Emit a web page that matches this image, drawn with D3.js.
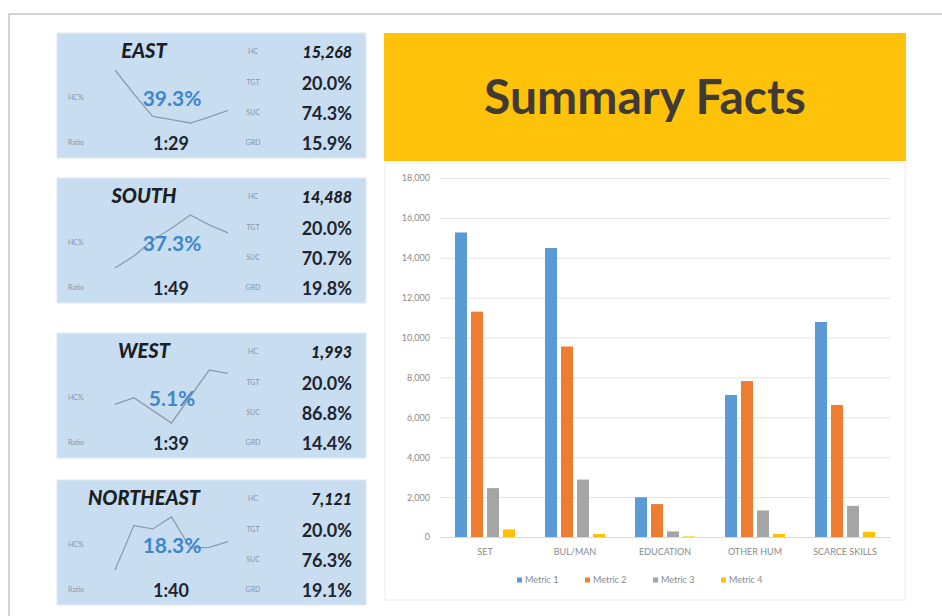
<!DOCTYPE html>
<html>
<head>
<meta charset="utf-8">
<script src="https://cdn.jsdelivr.net/npm/d3@7"></script>
<style>
  body { margin: 0; background: #fff; }
  svg { display: block; font-family: Lato, "Open Sans", sans-serif; }
</style>
</head>
<body>
<svg id="chart" width="942" height="616"></svg>
<script>
// bar chart data
var categories = ["SET", "BUL/MAN", "EDUCATION", "OTHER HUM", "SCARCE SKILLS"];
var seriesNames = ["Metric 1", "Metric 2", "Metric 3", "Metric 4"];
var metric1 = [15268, 14488, 1993, 7121, 10780];
var metric2 = [11300, 9550, 1650, 7820, 6620];
var metric3 = [2450, 2880, 280, 1330, 1560];
var metric4 = [380, 150, 30, 150, 260];
var yTicks = [0, 2000, 4000, 6000, 8000, 10000, 12000, 14000, 16000, 18000];

// region cards
var regions = ["EAST", "SOUTH", "WEST", "NORTHEAST"];
var hcValues = ["15,268", "14,488", "1,993", "7,121"];
var tgtValues = ["20.0%", "20.0%", "20.0%", "20.0%"];
var sucValues = ["74.3%", "70.7%", "86.8%", "76.3%"];
var grdValues = ["15.9%", "19.8%", "14.4%", "19.1%"];
var hcPctValues = ["39.3%", "37.3%", "5.1%", "18.3%"];
var ratioValues = ["1:29", "1:49", "1:39", "1:40"];

// sparkline trends (HC%) per region
var sparkEast = [46.0, 42.4, 39.0, 38.5, 38.0, 38.9, 39.9];
var sparkSouth = [32.0, 33.8, 36.2, 38.0, 40.0, 38.5, 37.3];
var sparkWest = [4.4, 4.9, 3.95, 3.0, 5.0, 7.0, 6.75];
var sparkNortheast = [14.0, 20.7, 20.2, 22.0, 17.3, 17.4, 18.3];

var colors = ["#5b9bd5", "#ed7d31", "#a5a5a5", "#ffc000"];

var svg = d3.select("#chart");

// page frame
svg.append("rect").attr("x", 0).attr("y", 0).attr("width", 942).attr("height", 616).attr("fill", "#fff");
svg.append("path")
    .attr("d", "M9,616 L9,14 L942,14")
    .attr("fill", "none")
    .attr("stroke", "#d4d4d4")
    .attr("stroke-width", 2);

// ---- region cards ----
var sparks = [sparkEast, sparkSouth, sparkWest, sparkNortheast];
var cardTops = [33, 178, 333, 480];
var cardW = 309, cardH = 125;

regions.forEach(function(name, i) {
  var g = svg.append("g").attr("transform", "translate(57," + cardTops[i] + ")");

  g.append("rect")
      .attr("width", cardW).attr("height", cardH)
      .attr("fill", "#c9ddf1")
      .attr("stroke", "#dce9f6");

  // sparkline drawn first so the numbers sit over it
  var sx = d3.scaleLinear().domain([0, sparks[i].length - 1]).range([58, 171]);
  var sy = d3.scaleLinear().domain(d3.extent(sparks[i])).range([90, 37]);
  g.append("path")
      .datum(sparks[i])
      .attr("fill", "none")
      .attr("stroke", "#8d9bab")
      .attr("stroke-width", 1.3)
      .attr("d", d3.line().x(function(d, j) { return sx(j); }).y(function(d) { return sy(d); }));

  g.append("text")
      .attr("x", 87).attr("y", 25)
      .attr("text-anchor", "middle")
      .attr("font-size", 20).attr("font-weight", 900).attr("font-style", "italic")
      .attr("fill", "#1a1f26")
      .text(name);

  // small labels
  var small = [["HC", 196, 21], ["TGT", 196, 52], ["SUC", 196, 82], ["GRD", 196, 112],
               ["HC%", 11, 67], ["Ratio", 11, 112]];
  small.forEach(function(s) {
    g.append("text")
        .attr("x", s[1]).attr("y", s[2])
        .attr("text-anchor", s[1] > 100 ? "middle" : "start")
        .attr("font-size", 7)
        .attr("fill", "#8496a8")
        .text(s[0]);
  });

  g.append("text")
      .attr("x", 295).attr("y", 25)
      .attr("text-anchor", "end")
      .attr("font-size", 16).attr("font-weight", 900).attr("font-style", "italic")
      .attr("fill", "#1a1f26")
      .text(hcValues[i]);

  [tgtValues[i], sucValues[i], grdValues[i]].forEach(function(v, k) {
    g.append("text")
        .attr("x", 295).attr("y", 57 + k * 30)
        .attr("text-anchor", "end")
        .attr("font-size", 18).attr("font-weight", "bold")
        .attr("fill", "#1c2530")
        .text(v);
  });

  g.append("text")
      .attr("x", 115).attr("y", 73)
      .attr("text-anchor", "middle")
      .attr("font-size", 21).attr("font-weight", "bold")
      .attr("fill", "#3f87cc")
      .text(hcPctValues[i]);

  g.append("text")
      .attr("x", 114).attr("y", 117)
      .attr("text-anchor", "middle")
      .attr("font-size", 18).attr("font-weight", "bold")
      .attr("fill", "#1c2530")
      .text(ratioValues[i]);
});

// ---- title banner ----
svg.append("rect")
    .attr("x", 384).attr("y", 33).attr("width", 522).attr("height", 128)
    .attr("fill", "#ffc20a");
svg.append("text")
    .attr("x", 645).attr("y", 114)
    .attr("text-anchor", "middle")
    .attr("font-size", 48).attr("font-weight", "bold")
    .attr("fill", "#3f3a33")
    .text("Summary Facts");

// ---- bar chart ----
svg.append("rect")
    .attr("x", 385).attr("y", 163).attr("width", 520).attr("height", 437)
    .attr("fill", "#fff").attr("stroke", "#ececec");

var x0 = d3.scaleBand().domain(categories).range([440, 890]).paddingInner(1 / 3).paddingOuter(1 / 6);
var x1 = d3.scaleBand().domain(seriesNames).range([0, x0.bandwidth()]).paddingInner(0.25);
var y = d3.scaleLinear().domain([0, 18000]).range([537, 178]);

var yAxis = svg.append("g")
    .attr("transform", "translate(440,0)")
    .call(d3.axisLeft(y).tickValues(yTicks).tickFormat(d3.format(",")).tickSize(-450).tickPadding(10));
yAxis.select(".domain").remove();
yAxis.selectAll(".tick line").attr("stroke", "#e3e3e3");
yAxis.selectAll(".tick text")
    .attr("fill", "#8a8a8a")
    .attr("font-size", 9)
    .attr("font-family", "Lato, 'Open Sans', sans-serif");

var seriesData = [metric1, metric2, metric3, metric4];
var groups = svg.append("g").selectAll("g")
    .data(seriesData)
    .join("g")
    .attr("fill", function(d, i) { return colors[i]; });

groups.selectAll("rect")
    .data(function(d, i) {
      return d.map(function(v, j) { return { cat: categories[j], s: seriesNames[i], v: v }; });
    })
    .join("rect")
    .attr("x", function(d) { return x0(d.cat) + x1(d.s); })
    .attr("width", x1.bandwidth())
    .attr("y", function(d) { return y(d.v); })
    .attr("height", function(d) { return y(0) - y(d.v); });

var xAxis = svg.append("g")
    .attr("transform", "translate(0,537)")
    .call(d3.axisBottom(x0).tickSize(0).tickPadding(12));
xAxis.select(".domain").attr("stroke", "#d9d9d9");
xAxis.selectAll(".tick text")
    .attr("fill", "#8a8a8a")
    .attr("font-size", 9)
    .attr("font-family", "Lato, 'Open Sans', sans-serif");

// legend
var legend = svg.append("g").attr("transform", "translate(517,580)");
var item = legend.selectAll("g")
    .data(seriesNames)
    .join("g")
    .attr("transform", function(d, i) { return "translate(" + (i * 68) + ",0)"; });
item.append("rect")
    .attr("x", 0).attr("y", -2.5).attr("width", 5).attr("height", 5)
    .attr("fill", function(d, i) { return colors[i]; });
item.append("text")
    .attr("x", 8).attr("y", 3)
    .attr("font-size", 9)
    .attr("fill", "#8a8a8a")
    .text(function(d) { return d; });
</script>
</body>
</html>
